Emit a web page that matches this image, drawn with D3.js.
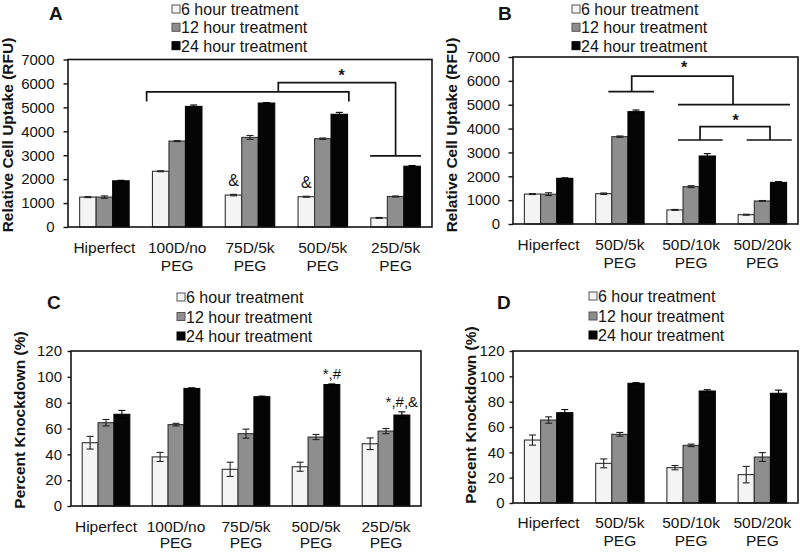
<!DOCTYPE html>
<html><head><meta charset="utf-8">
<script src="https://cdn.jsdelivr.net/npm/d3@7"></script>
<style>
body{margin:0;background:#fff;}
svg text{font-family:"Liberation Sans", Arial, Helvetica, sans-serif; fill:#141414;}
</style>
</head><body>
<svg id="chart" width="800" height="552"></svg>
<script>
// ---------------- data ----------------
const seriesNames = ["6 hour treatment", "12 hour treatment", "24 hour treatment"];
const catsA = ["Hiperfect", "100D/no PEG", "75D/5k PEG", "50D/5k PEG", "25D/5k PEG"];
const catsB = ["Hiperfect", "50D/5k PEG", "50D/10k PEG", "50D/20k PEG"];
const catsC = catsA;
const catsD = catsB;

const ticksUptake = [0, 1000, 2000, 3000, 4000, 5000, 6000, 7000];
const ticksKnock = [0, 20, 40, 60, 80, 100, 120];

// Panel A: relative cell uptake (RFU)
const uptakeA6  = [1250, 2330, 1335, 1265, 380];
const uptakeA12 = [1250, 3590, 3745, 3690, 1275];
const uptakeA24 = [1930, 5040, 5180, 4710, 2540];
const errA6  = [20, 20, 30, 20, 20];
const errA12 = [50, 20, 80, 30, 20];
const errA24 = [20, 60, 20, 80, 30];

// Panel B: relative cell uptake (RFU)
const uptakeB6  = [1255, 1270, 590, 390];
const uptakeB12 = [1250, 3660, 1565, 965];
const uptakeB24 = [1915, 4710, 2850, 1745];
const errB6  = [20, 30, 20, 20];
const errB12 = [60, 30, 40, 20];
const errB24 = [20, 70, 100, 30];

// Panel C: percent knockdown
const knockC6  = [49, 38, 28.4, 30.4, 48.2];
const knockC12 = [64.5, 63, 56, 53.4, 58];
const knockC24 = [71, 91, 84.6, 94, 70.4];
const errC6  = [4.9, 3.5, 5.5, 3.5, 4.5];
const errC12 = [2.5, 1, 3.5, 2, 2];
const errC24 = [3, 0.5, 0.5, 0.5, 2.5];

// Panel D: percent knockdown
const knockD6  = [49.7, 31.3, 27.9, 22.4];
const knockD12 = [65.5, 54.2, 45.5, 36.3];
const knockD24 = [71.3, 94.5, 88.4, 86.6];
const errD6  = [4, 3.5, 1.7, 6.5];
const errD12 = [2.5, 1.5, 1, 3.5];
const errD24 = [2.5, 0.5, 1, 2.5];

// significance marks: [category index, series index, label]
const marksA = [[2, 0, "&"], [3, 0, "&"]];
const marksC = [[3, 2, "*,#"], [4, 2, "*,#,&"]];

// brackets: polylines of [category index, band offset (steps), value]
const bracketsA = [
  [[1, -0.42, 5250], [1, -0.42, 5650], [3, 0.358, 5650], [3, 0.358, 5250]],
  [[2, 0.389, 5650], [2, 0.389, 6030], [4, 0, 6030], [4, 0, 2970]],
  [[4, -0.35, 2970], [4, 0.35, 2970]]
];
const starsA = [[3, 0.26, 6085]];
const bracketsB = [
  [[1, -0.162, 5550], [1, 0.479, 5550]],
  [[1, 0.166, 5550], [1, 0.166, 6200], [3, -0.412, 6200], [3, -0.412, 5000]],
  [[2, -0.184, 5000], [3, 0.388, 5000]],
  [[2, 0.125, 3520], [2, 0.125, 4080], [3, 0.107, 4080], [3, 0.107, 3520]],
  [[2, -0.184, 3520], [2, 0.443, 3520]],
  [[3, -0.22, 3520], [3, 0.412, 3520]]
];
const starsB = [[2, -0.1, 6340], [3, -0.374, 4120]];

// ---------------- style ----------------
const fills = ["#f4f4f4", "#8e8e8e", "#050505"];
const strokes = ["#333", "#333", "#050505"];
const ink = "#141414";

const svg = d3.select("#chart");

function drawPanel(p) {
  const g = svg.append("g");
  const f = p.frame;
  const x0 = d3.scaleBand().domain(p.cats).range([f.x0, f.x1]).paddingInner(0.32).paddingOuter(0.16);
  const x1 = d3.scaleBand().domain([0, 1, 2]).range([0, x0.bandwidth()]);
  const y = d3.scaleLinear().domain([p.ticks[0], p.ticks[p.ticks.length - 1]]).range([f.y1, f.y0]);
  const step = x0.step();
  const cx = (i, o) => x0(p.cats[i]) + x0.bandwidth() / 2 + o * step;

  // bars
  p.values.forEach((vals, s) => {
    g.append("g").selectAll("rect").data(vals).join("rect")
      .attr("x", (d, i) => x0(p.cats[i]) + x1(s))
      .attr("y", d => y(d))
      .attr("width", x1.bandwidth())
      .attr("height", d => y(0) - y(d))
      .attr("fill", fills[s])
      .attr("stroke", strokes[s])
      .attr("stroke-width", 1.1);
  });

  // error bars
  p.values.forEach((vals, s) => {
    const eg = g.append("g").attr("stroke", s === 2 ? "#000" : "#222").attr("stroke-width", 1.1);
    vals.forEach((v, i) => {
      const e = p.errors[s][i];
      const xc = x0(p.cats[i]) + x1(s) + x1.bandwidth() / 2;
      const cap = 3.5;
      eg.append("line").attr("x1", xc).attr("x2", xc).attr("y1", y(v - e)).attr("y2", y(v + e));
      eg.append("line").attr("x1", xc - cap).attr("x2", xc + cap).attr("y1", y(v + e)).attr("y2", y(v + e));
      eg.append("line").attr("x1", xc - cap).attr("x2", xc + cap).attr("y1", y(v - e)).attr("y2", y(v - e));
    });
  });

  // frame
  g.append("rect").attr("x", f.x0).attr("y", f.y0).attr("width", f.x1 - f.x0).attr("height", f.y1 - f.y0)
    .attr("fill", "none").attr("stroke", ink).attr("stroke-width", 1.6);

  // y axis
  const ax = g.append("g").attr("transform", `translate(${f.x0},0)`)
    .call(d3.axisLeft(y).tickValues(p.ticks).tickFormat(d3.format("d")).tickSize(p.tickLen).tickPadding(p.tickPad));
  ax.select(".domain").remove();
  ax.selectAll(".tick line").attr("stroke", ink).attr("stroke-width", 1.4);
  ax.selectAll(".tick text").attr("fill", ink).style("font-size", p.tickFont + "px")
    .style("font-family", '"Liberation Sans", Arial, sans-serif');

  // y title
  g.append("text").attr("transform", `translate(${p.titleX},${p.titleY}) rotate(-90)`)
    .attr("text-anchor", "middle").style("font-weight", "bold").style("font-size", "15.5px")
    .text(p.title);

  // category labels
  p.cats.forEach((c, i) => {
    const parts = c.split(" ");
    const t = g.append("text").attr("text-anchor", "middle").style("font-size", "15.5px");
    parts.forEach((part, k) => {
      t.append("tspan").attr("x", cx(i, 0)).attr("y", p.labelY[k]).text(part);
    });
  });

  // panel letter
  g.append("text").attr("x", p.letter[0]).attr("y", p.letter[1])
    .style("font-weight", "bold").style("font-size", "19px").text(p.name);

  // legend
  seriesNames.forEach((s, k) => {
    const by = p.legend.ys[k];
    g.append("rect").attr("x", p.legend.sqX).attr("y", by - 10).attr("width", 8).attr("height", 8)
      .attr("fill", fills[k]).attr("stroke", k === 2 ? "#000" : "#555").attr("stroke-width", 1);
    g.append("text").attr("x", p.legend.textX).attr("y", by).style("font-size", "16px").text(s);
  });

  // text marks above bars
  (p.marks || []).forEach(([i, s, txt]) => {
    const v = p.values[s][i] + p.errors[s][i];
    g.append("text").attr("x", x0(p.cats[i]) + x1(s) + x1.bandwidth() / 2).attr("y", y(v) - p.markGap)
      .attr("text-anchor", "middle").style("font-size", p.markFont + "px").text(txt);
  });

  // brackets
  const line = d3.line().x(d => cx(d[0], d[1])).y(d => y(d[2]));
  (p.brackets || []).forEach(b => {
    g.append("path").attr("d", line(b)).attr("fill", "none").attr("stroke", ink).attr("stroke-width", 1.7);
  });
  (p.stars || []).forEach(sv => {
    g.append("text").attr("x", cx(sv[0], sv[1])).attr("y", y(sv[2])).attr("text-anchor", "middle")
      .style("font-size", "16px").style("font-weight", "bold").text("*");
  });
}

drawPanel({
  name: "A", cats: catsA, ticks: ticksUptake,
  values: [uptakeA6, uptakeA12, uptakeA24], errors: [errA6, errA12, errA24],
  frame: {x0: 68, x1: 432, y0: 59.5, y1: 227},
  tickLen: 4.5, tickPad: 9, tickFont: 15,
  title: "Relative Cell Uptake (RFU)", titleX: 13, titleY: 135,
  labelY: [253, 271], letter: [49, 20],
  legend: {sqX: 172, textX: 181, ys: [15, 33.3, 51.7]},
  marks: marksA, markGap: 8, markFont: 16,
  brackets: bracketsA, stars: starsA
});

drawPanel({
  name: "B", cats: catsB, ticks: ticksUptake,
  values: [uptakeB6, uptakeB12, uptakeB24], errors: [errB6, errB12, errB24],
  frame: {x0: 513, x1: 798, y0: 57, y1: 224},
  tickLen: 4.5, tickPad: 8.5, tickFont: 15,
  title: "Relative Cell Uptake (RFU)", titleX: 457, titleY: 135,
  labelY: [250, 268], letter: [498, 20],
  legend: {sqX: 572, textX: 581, ys: [15, 33.3, 51.7]},
  brackets: bracketsB, stars: starsB
});

drawPanel({
  name: "C", cats: catsC, ticks: ticksKnock,
  values: [knockC6, knockC12, knockC24], errors: [errC6, errC12, errC24],
  frame: {x0: 71, x1: 421, y0: 351, y1: 506},
  tickLen: 3.5, tickPad: 5.5, tickFont: 15,
  title: "Percent Knockdown (%)", titleX: 25, titleY: 420,
  labelY: [532, 548], letter: [47, 309],
  legend: {sqX: 177, textX: 186, ys: [303, 322.5, 342]},
  marks: marksC, markGap: 5, markFont: 15
});

drawPanel({
  name: "D", cats: catsD, ticks: ticksKnock,
  values: [knockD6, knockD12, knockD24], errors: [errD6, errD12, errD24],
  frame: {x0: 513, x1: 798, y0: 351, y1: 503},
  tickLen: 3.5, tickPad: 5, tickFont: 15,
  title: "Percent Knockdown (%)", titleX: 476, titleY: 415,
  labelY: [528, 546], letter: [497, 309],
  legend: {sqX: 589, textX: 598, ys: [302, 322, 341]}
});
</script>
</body></html>
